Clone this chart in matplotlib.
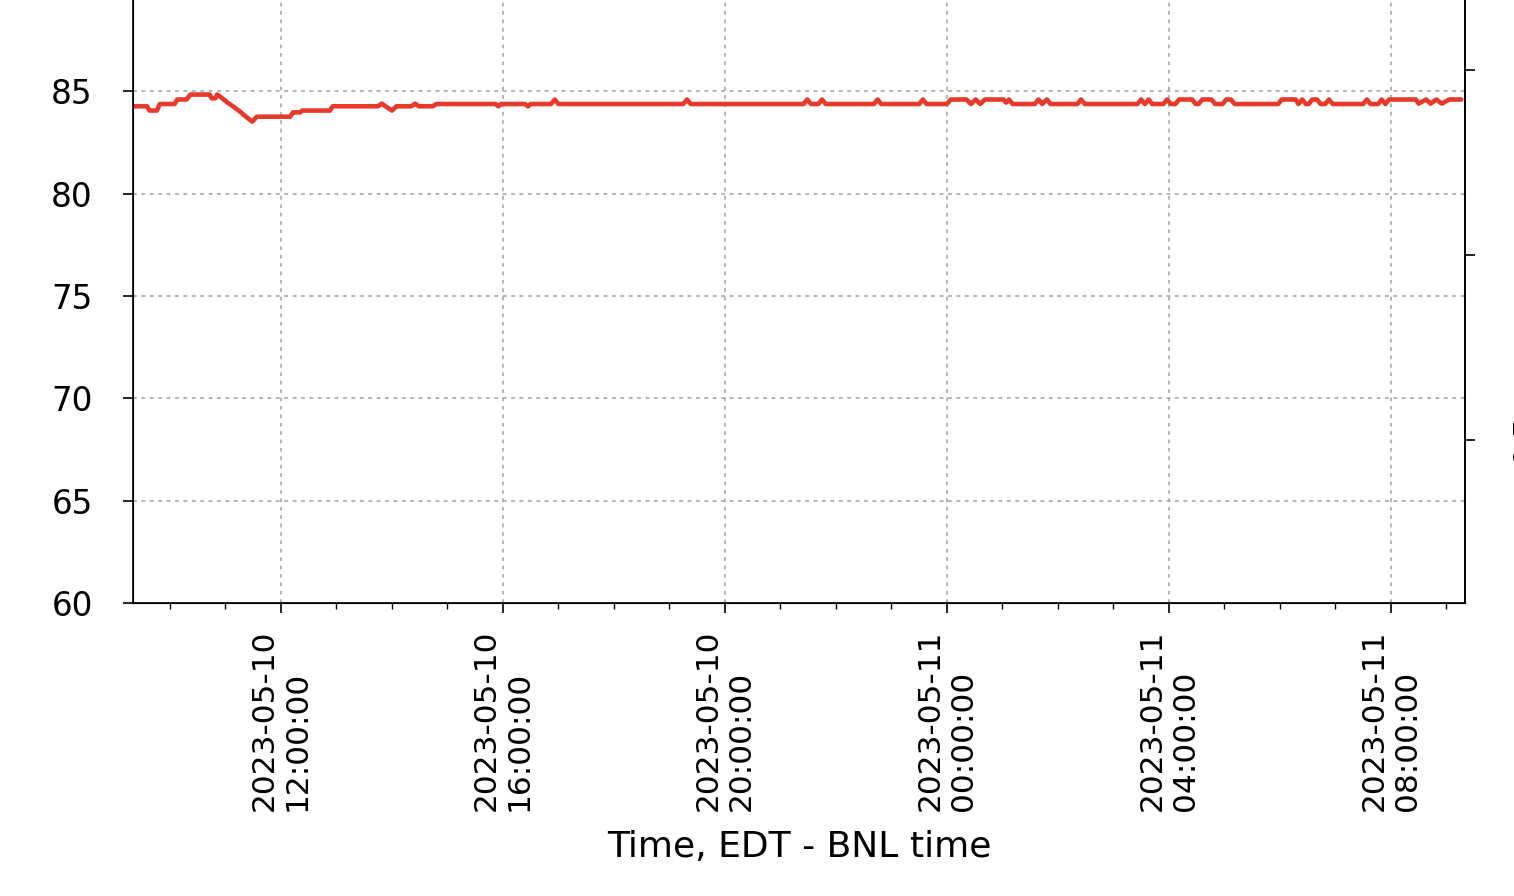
import matplotlib
matplotlib.use("Agg")
import matplotlib.pyplot as plt
import matplotlib.dates as mdates
import pandas as pd

# temperature readings (time, value)
times = [
    "05-10 09:20", "05-10 09:35", "05-10 09:38", "05-10 09:46", "05-10 09:49",
    "05-10 10:05", "05-10 10:08", "05-10 10:18", "05-10 10:22", "05-10 10:43",
    "05-10 10:45", "05-10 10:49", "05-10 10:51", "05-10 10:54", "05-10 11:02",
    "05-10 11:08", "05-10 11:16", "05-10 11:23", "05-10 11:29", "05-10 11:34",
    "05-10 12:10", "05-10 12:13", "05-10 12:21", "05-10 12:23", "05-10 12:53",
    "05-10 12:56", "05-10 13:45", "05-10 13:49", "05-10 13:53", "05-10 14:00",
    "05-10 14:05", "05-10 14:21", "05-10 14:25", "05-10 14:29", "05-10 14:44",
    "05-10 14:48", "05-10 15:52", "05-10 15:55", "05-10 15:58", "05-10 16:24",
    "05-10 16:27", "05-10 16:30", "05-10 16:52", "05-10 16:56", "05-10 17:00",
    "05-10 19:15", "05-10 19:19", "05-10 19:23", "05-10 21:25", "05-10 21:29",
    "05-10 21:33", "05-10 21:41", "05-10 21:45", "05-10 21:49", "05-10 22:41",
    "05-10 22:45", "05-10 22:49", "05-10 23:30", "05-10 23:34", "05-10 23:38",
    "05-11 00:00", "05-11 00:04", "05-11 00:21", "05-11 00:26", "05-11 00:31",
    "05-11 00:36", "05-11 00:41", "05-11 01:01", "05-11 01:04", "05-11 01:07",
    "05-11 01:11", "05-11 01:35", "05-11 01:39", "05-11 01:43", "05-11 01:48",
    "05-11 01:52", "05-11 02:21", "05-11 02:25", "05-11 02:29", "05-11 03:26",
    "05-11 03:30", "05-11 03:34", "05-11 03:38", "05-11 03:42", "05-11 03:54",
    "05-11 03:58", "05-11 04:02", "05-11 04:07", "05-11 04:11", "05-11 04:25",
    "05-11 04:29", "05-11 04:32", "05-11 04:36", "05-11 04:46", "05-11 04:50",
    "05-11 04:58", "05-11 05:02", "05-11 05:07", "05-11 05:11", "05-11 05:58",
    "05-11 06:02", "05-11 06:17", "05-11 06:20", "05-11 06:24", "05-11 06:28",
    "05-11 06:31", "05-11 06:35", "05-11 06:40", "05-11 06:44", "05-11 06:49",
    "05-11 06:53", "05-11 06:57", "05-11 07:30", "05-11 07:34", "05-11 07:38",
    "05-11 07:46", "05-11 07:50", "05-11 07:54", "05-11 07:58", "05-11 08:27",
    "05-11 08:30", "05-11 08:38", "05-11 08:43", "05-11 08:49", "05-11 08:55",
    "05-11 09:03", "05-11 09:16",
]
temps = [
    84.27, 84.27, 84.06, 84.06, 84.38,
    84.38, 84.60, 84.60, 84.84, 84.84,
    84.66, 84.66, 84.84, 84.75, 84.46,
    84.27, 84.00, 83.73, 83.52, 83.76,
    83.76, 83.97, 83.97, 84.06, 84.06,
    84.27, 84.27, 84.40, 84.27, 84.06,
    84.27, 84.27, 84.40, 84.27, 84.27,
    84.38, 84.38, 84.27, 84.38, 84.38,
    84.27, 84.38, 84.38, 84.60, 84.38,
    84.38, 84.60, 84.38, 84.38, 84.60,
    84.38, 84.38, 84.60, 84.38, 84.38,
    84.60, 84.38, 84.38, 84.60, 84.38,
    84.38, 84.60, 84.60, 84.38, 84.60,
    84.38, 84.60, 84.60, 84.45, 84.60,
    84.38, 84.38, 84.60, 84.38, 84.60,
    84.38, 84.38, 84.60, 84.38, 84.38,
    84.60, 84.38, 84.60, 84.38, 84.38,
    84.60, 84.38, 84.38, 84.60, 84.60,
    84.38, 84.38, 84.60, 84.60, 84.38,
    84.38, 84.60, 84.60, 84.38, 84.38,
    84.60, 84.60, 84.38, 84.60, 84.38,
    84.38, 84.60, 84.60, 84.38, 84.38,
    84.60, 84.38, 84.38, 84.60, 84.38,
    84.38, 84.60, 84.38, 84.60, 84.60,
    84.40, 84.60, 84.40, 84.60, 84.40,
    84.60, 84.60,
]
x_start, x_end = "2023-05-10 09:20", "2023-05-11 09:20"
left_ticks = [60, 65, 70, 75, 80, 85]
right_ticks = [1, 2, 3]
right_labels = ["0.5", "1.0", "1.5"]

t = pd.to_datetime(["2023-" + s for s in times])

fig = plt.figure(figsize=(15.14, 8.96), dpi=100)
ax = fig.add_axes([0.0878, 0.327, 0.8798, 0.6853])

ax.plot(t, temps, color="#e8392b", lw=3.3, solid_joinstyle="round",
        solid_capstyle="round")

ax.set_ylim(60, 90)
ax.set_xlim(pd.Timestamp(x_start), pd.Timestamp(x_end))
ax.set_yticks(left_ticks)

ax.xaxis.set_major_locator(mdates.HourLocator(byhour=[0, 4, 8, 12, 16, 20]))
ax.xaxis.set_minor_locator(mdates.HourLocator(interval=1))
ax.xaxis.set_major_formatter(mdates.DateFormatter("%Y-%m-%d\n%H:%M:%S"))

ax.grid(True, which="major", color="#a0a0a0", lw=1.1, linestyle=(0, (2.5, 3)))
ax.axhline(90, color="#a0a0a0", lw=1.1, linestyle=(0, (2.5, 3)))

for s in ax.spines.values():
    s.set_linewidth(1.2)
ax.spines["top"].set_visible(False)

ax.tick_params(axis="y", which="major", length=7, width=1.2, labelsize=23.5, pad=22)
ax.tick_params(axis="x", which="major", length=7, width=1.2, labelsize=22.5, pad=12,
               labelrotation=90)
ax.tick_params(axis="x", which="minor", length=4, width=1.0)
plt.setp(ax.get_xticklabels(), multialignment="left", linespacing=1.15)

ax.set_xlabel("Time, EDT - BNL time", fontsize=26, labelpad=14)

# right axis (labels fall off the canvas)
ax2 = ax.twinx()
ax2.set_ylim(0.12, 3.44)
ax2.set_yticks(right_ticks)
ax2.set_yticklabels(right_labels, rotation=90, va="center")
ax2.tick_params(axis="y", length=7, width=1.2, labelsize=22, pad=26.5)
ax2.spines["top"].set_visible(False)
ax2.spines["right"].set_linewidth(1.2)

fig.savefig("out.png", dpi=100)
